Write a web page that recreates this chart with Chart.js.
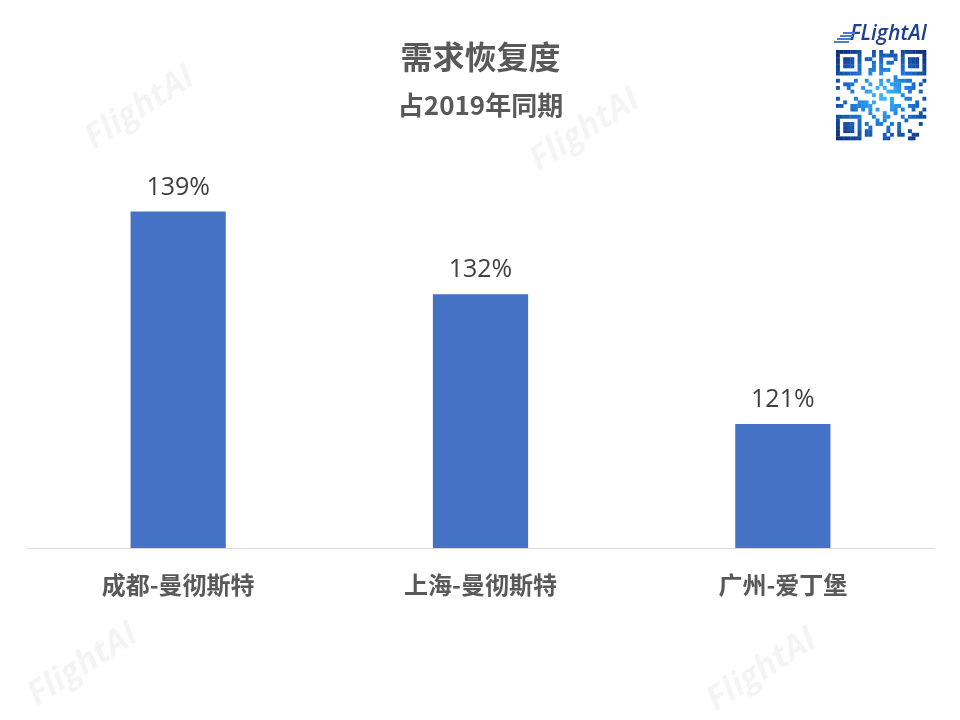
<!DOCTYPE html>
<html>
<head>
<meta charset="utf-8">
<script src="https://cdn.jsdelivr.net/npm/chart.js@4"></script>
<style>
html,body{margin:0;padding:0;background:#fff;}
#wrap{width:960px;height:720px;}
</style>
</head>
<body>
<div id="wrap"><canvas id="c" width="960" height="720"></canvas></div>
<script>
const categories = ['成都-曼彻斯特', '上海-曼彻斯特', '广州-爱丁堡'];
const recovery = [139, 132, 121];
const valueLabels = ['139%', '132%', '121%'];
const titleText = '需求恢复度';
const subtitleText = '占2019年同期';

const CJK = '"Noto Sans CJK SC", "Noto Sans", sans-serif';

const decor = {
  id: 'decor',
  beforeDraw(chart) {
    const ctx = chart.ctx;
    ctx.save();
    ctx.fillStyle = '#fff';
    ctx.fillRect(0, 0, chart.width, chart.height);
    // watermarks
    const marks = [[140, 108], [585, 130], [83, 665], [762, 670]];
    ctx.font = 'italic bold 34px "Open Sans", sans-serif';
    ctx.fillStyle = 'rgba(0,0,0,0.045)';
    ctx.textAlign = 'center';
    ctx.textBaseline = 'middle';
    marks.forEach(([x, y]) => {
      ctx.save();
      ctx.translate(x, y);
      ctx.rotate(-33 * Math.PI / 180);
      ctx.fillText('FlightAI', 0, 0);
      ctx.restore();
    });
    // logo text
    ctx.font = 'italic 600 21px "Open Sans", sans-serif';
    ctx.fillStyle = '#1f3f8f';
    ctx.textAlign = 'left';
    ctx.textBaseline = 'middle';
    ctx.fillText('FLightAI', 850, 34);
    ctx.fillStyle = '#4a7fd0';
    for (let i = 0; i < 4; i++) {
      ctx.fillRect(834 + i * 3, 41 - i * 3, 15 - i, 2);
    }
    // QR-like decoration
    const qx = 836, qy = 50, cell = 3.6, n = 25;
    const grad = ctx.createRadialGradient(qx + 45, qy + 45, 5, qx + 45, qy + 45, 60);
    grad.addColorStop(0, '#38b6ff');
    grad.addColorStop(0.5, '#1c6fd1');
    grad.addColorStop(1, '#0d2f7a');
    ctx.fillStyle = grad;
    const finder = (r, c) => {
      const inF = (r0, c0) => {
        const rr = r - r0, cc = c - c0;
        if (rr < 0 || rr > 6 || cc < 0 || cc > 6) return null;
        if (rr === 0 || rr === 6 || cc === 0 || cc === 6) return true;
        if (rr >= 2 && rr <= 4 && cc >= 2 && cc <= 4) return true;
        return false;
      };
      let v = inF(0, 0); if (v !== null) return v;
      v = inF(0, n - 7); if (v !== null) return v;
      v = inF(n - 7, 0); if (v !== null) return v;
      if ((r === 7 && (c < 8 || c > n - 9)) || (c === 7 && (r < 8 || r > n - 9)) || (r === n - 8 && c < 8) || (c === n - 8 && r < 8)) return false;
      return null;
    };
    for (let r = 0; r < n; r++) {
      for (let c = 0; c < n; c++) {
        let on = finder(r, c);
        if (on === null) on = (((r * 7 + c * 13) ^ (r * c * 3)) % 5) < 2;
        if (on) ctx.fillRect(qx + c * cell, qy + r * cell, cell + 0.3, cell + 0.3);
      }
    }
    ctx.restore();
  },
  afterDatasetsDraw(chart) {
    const ctx = chart.ctx;
    const meta = chart.getDatasetMeta(0);
    ctx.save();
    ctx.font = '25px "Open Sans", "Noto Sans", sans-serif';
    ctx.fillStyle = '#404040';
    ctx.textAlign = 'center';
    ctx.textBaseline = 'middle';
    meta.data.forEach((bar, i) => {
      ctx.fillText(valueLabels[i], bar.x, bar.y - 24);
    });
    ctx.restore();
  }
};

new Chart(document.getElementById('c'), {
  type: 'bar',
  data: {
    labels: categories,
    datasets: [{
      data: recovery,
      backgroundColor: '#4472C4',
      barPercentage: 0.315,
      categoryPercentage: 1.0
    }]
  },
  options: {
    responsive: false,
    animation: false,
    devicePixelRatio: 1,
    layout: { padding: { left: 27, right: 26, top: 0, bottom: 98 } },
    plugins: {
      legend: { display: false },
      tooltip: { enabled: false },
      title: {
        display: true,
        text: titleText,
        color: '#595959',
        font: { family: CJK, size: 32, weight: 'bold' },
        padding: { top: 38, bottom: 13 }
      },
      subtitle: {
        display: true,
        text: subtitleText,
        color: '#595959',
        font: { family: CJK, size: 26, weight: 'bold' },
        padding: { top: 0, bottom: 29.5 }
      }
    },
    scales: {
      x: {
        grid: { display: false, drawTicks: false },
        border: { display: true, color: '#d9d9d9', width: 1 },
        ticks: {
          color: '#595959',
          font: { family: CJK, size: 24, weight: 'bold' },
          padding: 22.6,
          maxRotation: 0
        }
      },
      y: {
        display: false,
        min: 110.5,
        max: 144.2
      }
    }
  },
  plugins: [decor]
});
</script>
</body>
</html>
